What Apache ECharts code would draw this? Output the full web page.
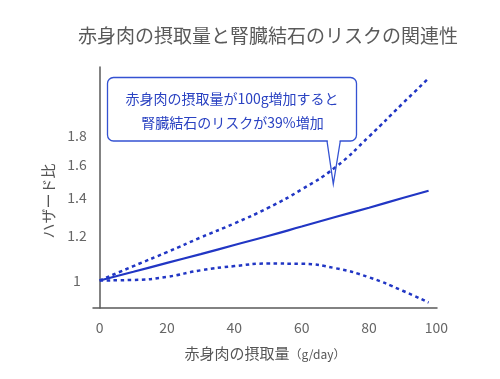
<!DOCTYPE html>
<html>
<head>
<meta charset="utf-8">
<script src="https://cdn.jsdelivr.net/npm/echarts@6/dist/echarts.min.js"></script>
<style>html,body{margin:0;padding:0;background:#fff}#c{width:500px;height:379px}</style>
</head>
<body>
<div id="c"></div>
<script>
const titleText = '赤身肉の摂取量と腎臓結石のリスクの関連性';
const intake = [0, 10, 20, 30, 40, 50, 60, 70, 80, 90, 97.7];
const hrCentral = [1.0, 1.036, 1.074, 1.113, 1.155, 1.198, 1.245, 1.294, 1.344, 1.398, 1.44];
const hrUpper = [1.0, 1.06, 1.122, 1.191, 1.261, 1.343, 1.448, 1.584, 1.795, 2.054, 2.275];
const hrLower = [1.0, 1.002, 1.015, 1.042, 1.06, 1.071, 1.07, 1.051, 1.013, 0.959, 0.914];
const yTicks = [1, 1.2, 1.4, 1.6, 1.8];
const xTicks = [0, 20, 40, 60, 80, 100];
const calloutLines = ['赤身肉の摂取量が100g増加すると', '腎臓結石のリスクが39%増加'];

const FONT = '"Noto Sans CJK JP", "Noto Sans", sans-serif';
const BLUE = '#2136c4';
const pairs = arr => intake.map((x, i) => [x, arr[i]]);

const chart = echarts.init(document.getElementById('c'), null, {renderer: 'canvas'});
chart.setOption({
  animation: false,
  backgroundColor: '#fff',
  title: {
    text: titleText, left: 263, textAlign: 'center', top: 21,
    textStyle: {fontFamily: FONT, fontSize: 19, fontWeight: 'normal', color: '#5a5a5a'}
  },
  grid: {left: 93, right: 63, top: 67, bottom: 71, containLabel: false},
  xAxis: {
    type: 'value', min: -2, max: 100.2,
    axisLine: {show: true, lineStyle: {color: '#5a5a5a', width: 1.5}},
    axisTick: {show: false},
    splitLine: {show: false},
    axisLabel: {customValues: xTicks, margin: 13, fontFamily: FONT, fontSize: 14, color: '#666',
      showMaxLabel: true, showMinLabel: true},
    name: '{a|赤身肉の摂取量}{b|（g/day）}',
    nameLocation: 'middle', nameGap: 38,
    nameTextStyle: {
      rich: {
        a: {fontFamily: FONT, fontSize: 15, color: '#555'},
        b: {fontFamily: FONT, fontSize: 12, color: '#555', padding: [2, 0, 0, 0]}
      }
    }
  },
  yAxis: {
    type: 'log', logBase: Math.E, min: 0.894, max: 2.382,
    axisLine: {show: true, lineStyle: {color: '#5a5a5a', width: 1.5}},
    axisTick: {show: false},
    splitLine: {show: false},
    axisLabel: {customValues: yTicks, align: 'center', margin: 16, fontFamily: FONT, fontSize: 14, color: '#666',
      formatter: v => String(+(+v).toFixed(1))},
    name: 'ハザード比', nameLocation: 'middle', nameGap: 37, nameRotate: 90,
    nameTextStyle: {fontFamily: FONT, fontSize: 15, color: '#555', padding: [0, 27, 0, 0]}
  },
  series: [
    {type: 'line', data: pairs(hrUpper), smooth: true, symbol: 'none',
     lineStyle: {color: BLUE, width: 2.5, type: [3.5, 3.5]}},
    {type: 'line', data: pairs(hrLower), smooth: true, symbol: 'none',
     lineStyle: {color: BLUE, width: 2.5, type: [3.5, 3.5]}},
    {type: 'line', data: pairs(hrCentral), smooth: true, symbol: 'none',
     lineStyle: {color: BLUE, width: 2.2}}
  ],
  graphic: [
    {type: 'rect', z: 100, shape: {x: 107.5, y: 77.5, width: 249, height: 63.5, r: 6},
     style: {fill: '#fff', stroke: '#3452d2', lineWidth: 1.3}},
    {type: 'line', z: 101, shape: {x1: 327.8, y1: 141, x2: 339.6, y2: 141},
     style: {stroke: '#fff', lineWidth: 3}},
    {type: 'polyline', z: 102, shape: {points: [[327, 141], [333.3, 184], [340.3, 141]]},
     style: {fill: null, stroke: '#3452d2', lineWidth: 1.3}},
    {type: 'text', z: 103, x: 232, y: 98.5,
     style: {text: calloutLines[0], fontFamily: FONT, fontSize: 14, fill: '#2a42c2', align: 'center', verticalAlign: 'middle'}},
    {type: 'text', z: 103, x: 232.5, y: 122.7,
     style: {text: calloutLines[1], fontFamily: FONT, fontSize: 14, fill: '#2a42c2', align: 'center', verticalAlign: 'middle'}}
  ]
});
</script>
</body>
</html>
